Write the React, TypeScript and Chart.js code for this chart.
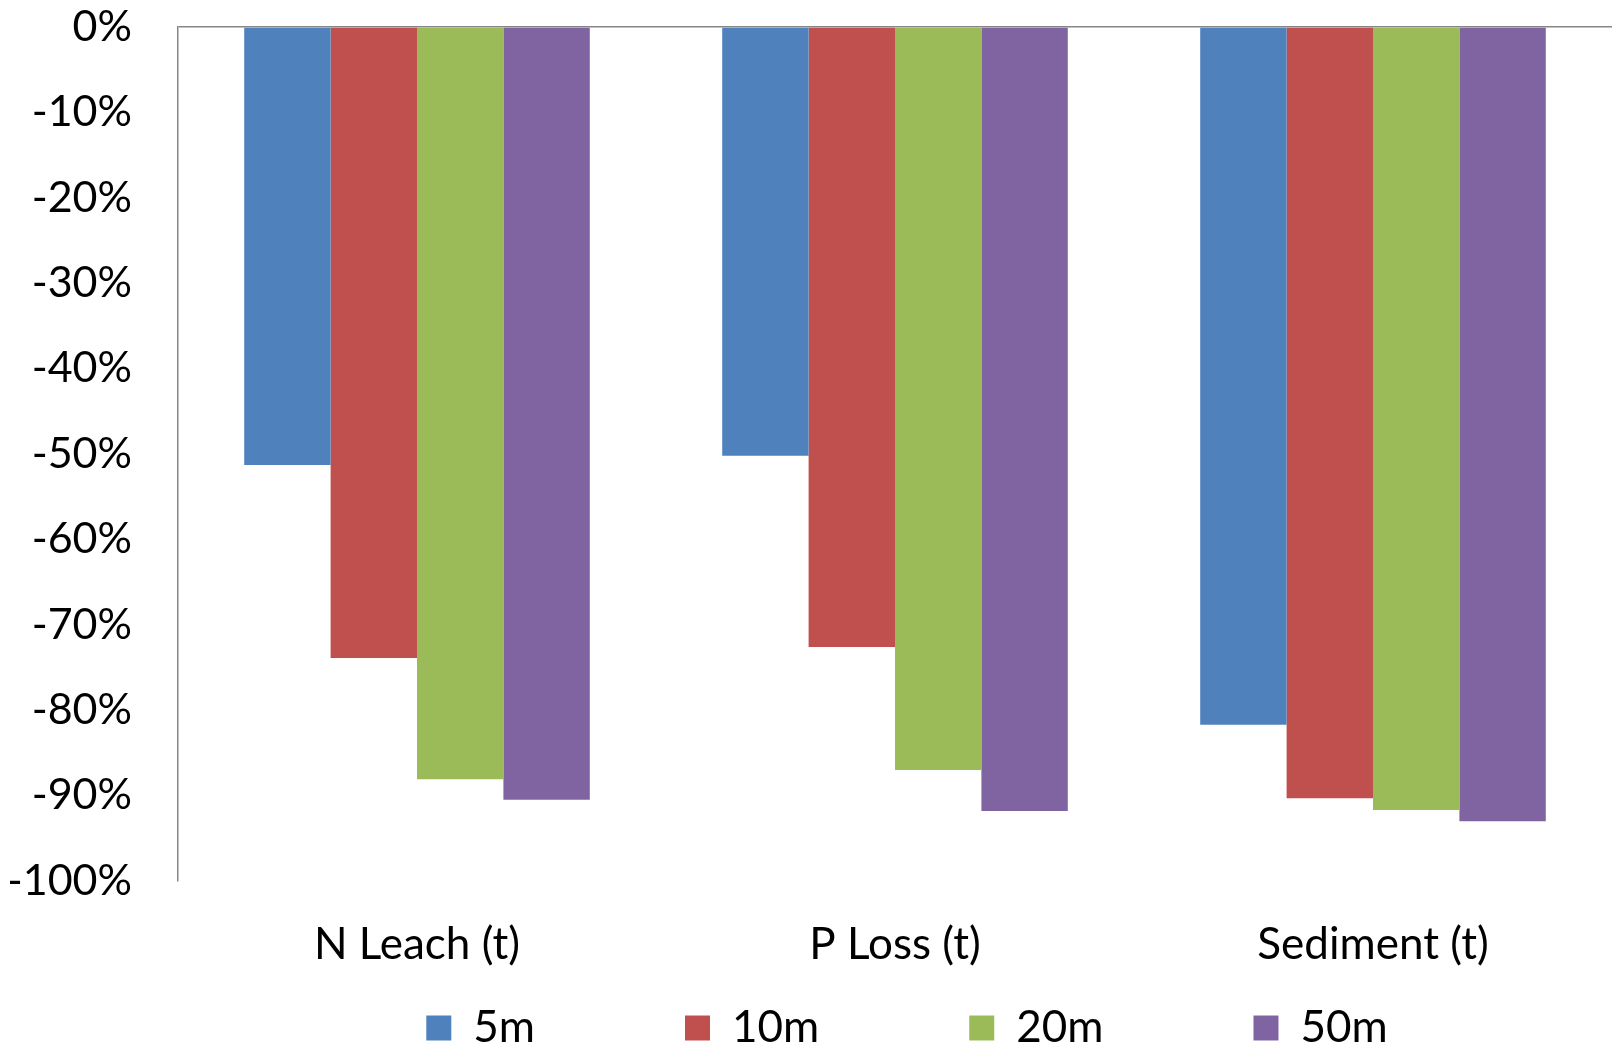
import React, { useEffect, useRef } from "react";
import { Chart, registerables } from "chart.js";

Chart.register(...registerables);

const categories = ["N Leach (t)", "P Loss (t)", "Sediment (t)"];
const seriesNames = ["5m", "10m", "20m", "50m"];
const values5m = [-51.3, -50.2, -81.7];
const values10m = [-73.9, -72.6, -90.3];
const values20m = [-88.1, -87.0, -91.7];
const values50m = [-90.5, -91.8, -93.0];
const colors = ["#4F81BD", "#C0504D", "#9BBB59", "#8064A2"];
const yMin = -100;
const yMax = 0;
const yStep = 10;

const LEGEND_GAP = 150;

// Places the legend row under the plot area (layout only).
const legendPlacer = {
  id: "legendPlacer",
  afterLayout(chart: any) {
    const lg = chart.legend;
    if (!lg) return;
    const ca = chart.chartArea;
    lg.left = ca.left + 24;
    lg.right = ca.right;
    lg.top = chart.height - 41 - LEGEND_GAP;
  },
};

export default function App() {
  const ref = useRef<HTMLCanvasElement | null>(null);
  useEffect(() => {
    document.body.style.margin = "0";
    if (!ref.current) return;
    const seriesValues = [values5m, values10m, values20m, values50m];
    const font = "Lato, 'Open Sans', sans-serif";
    const chart = new Chart(ref.current, {
      type: "bar",
      data: {
        labels: categories,
        datasets: seriesNames.map((name, i) => ({
          label: name,
          data: seriesValues[i],
          backgroundColor: colors[i],
          borderWidth: 0,
          categoryPercentage: 0.723,
          barPercentage: 1.0,
        })),
      },
      plugins: [legendPlacer],
      options: {
        animation: false,
        responsive: false,
        maintainAspectRatio: false,
        layout: { padding: { left: 10, right: 0, top: 0, bottom: 4 } },
        plugins: {
          tooltip: { enabled: false },
          legend: {
            position: "bottom",
            maxHeight: 72,
            labels: {
              boxWidth: 25,
              boxHeight: 25,
              padding: LEGEND_GAP,
              color: "#000",
              font: { family: font, size: 44 },
            },
          },
        },
        scales: {
          x: {
            grid: { display: false, drawTicks: false },
            border: { display: false },
            afterFit: (scale: any) => {
              scale.paddingLeft = 0;
              scale.paddingRight = 0;
              scale.height = 90;
            },
            ticks: {
              color: "#000",
              padding: 37,
              font: { family: font, size: 44 },
            },
          },
          y: {
            min: yMin,
            max: yMax,
            afterFit: (scale: any) => {
              scale.width = 168;
              scale.paddingTop = 27;
              scale.paddingBottom = 0;
            },
            grid: {
              drawTicks: false,
              color: (ctx: any) => (ctx.tick && ctx.tick.value === 0 ? "#868686" : "rgba(0,0,0,0)"),
              lineWidth: 1.5,
            },
            border: { display: true, color: "#868686", width: 1.5 },
            ticks: {
              stepSize: yStep,
              color: "#000",
              padding: 46,
              font: { family: font, size: 43 },
              callback: (v: any) => `${v}%`,
            },
          },
        },
      },
    });
    return () => chart.destroy();
  }, []);
  return (
    <div style={{ width: 1612, height: 1047, background: "#fff" }}>
      <canvas ref={ref} width={1612} height={1047} style={{ display: "block" }} />
    </div>
  );
}
